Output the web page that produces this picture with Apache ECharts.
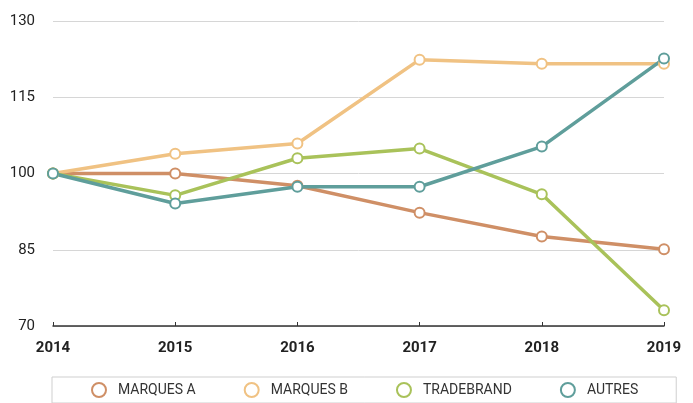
<!DOCTYPE html>
<html>
<head>
<meta charset="utf-8">
<script src="https://cdn.jsdelivr.net/npm/echarts@6/dist/echarts.min.js"></script>
<style>
  html, body { margin: 0; padding: 0; background: #fff; }
  #chart { width: 693px; height: 403px; }
</style>
</head>
<body>
<div id="chart"></div>
<script>
var years = ['2014', '2015', '2016', '2017', '2018', '2019'];
var marquesA = [100, 100, 97.6, 92.3, 87.6, 85.1];
var marquesB = [100, 103.9, 105.9, 122.4, 121.6, 121.6];
var tradebrand = [100, 95.7, 103, 104.9, 95.9, 73.1];
var autres = [100, 94.1, 97.4, 97.4, 105.3, 122.6];

var names = ['MARQUES A', 'MARQUES B', 'TRADEBRAND', 'AUTRES'];
var colors = ['#cf8f66', '#f0c283', '#a9c25a', '#5f9e9b'];
var font = '"Liberation Sans Narrow", "Roboto", sans-serif';

var chart = echarts.init(document.getElementById('chart'));

function makeSeries(name, data, color) {
  return {
    name: name,
    type: 'line',
    data: data,
    symbol: 'emptyCircle',
    symbolSize: 10,
    lineStyle: { width: 3.5, color: color },
    itemStyle: { color: color, borderWidth: 3, borderColor: color },
    emphasis: { disabled: true }
  };
}

var option = {
  animation: false,
  color: colors,
  grid: { left: 53, right: 29, top: 21, bottom: 77 },
  legend: {
    data: names,
    left: 52,
    top: 377,
    itemWidth: 16,
    itemHeight: 14,
    itemGap: 48,
    padding: [5, 38, 5, 39],
    borderColor: '#cfcfcf',
    borderWidth: 1,
    icon: 'emptyCircle',
    itemStyle: { borderWidth: 3.5 },
    textStyle: { fontFamily: font, fontSize: 14, color: '#333', padding: [0, 0, 0, 6] }
  },
  xAxis: {
    type: 'category',
    boundaryGap: false,
    data: years,
    axisLine: { lineStyle: { color: '#333', width: 1.5 } },
    axisTick: { show: true, inside: true, length: 4, lineStyle: { color: '#333' } },
    axisLabel: { fontFamily: font, fontSize: 15, fontWeight: 'bold', color: '#222', margin: 15 }
  },
  yAxis: {
    type: 'value',
    min: 70,
    max: 130,
    interval: 15,
    axisLine: { show: false },
    axisTick: { show: false },
    axisLabel: { fontFamily: font, fontSize: 15, color: '#222', margin: 18 },
    splitLine: { lineStyle: { color: '#d6d6d6', width: 1 } }
  },
  series: [
    makeSeries(names[0], marquesA, colors[0]),
    makeSeries(names[1], marquesB, colors[1]),
    makeSeries(names[2], tradebrand, colors[2]),
    makeSeries(names[3], autres, colors[3])
  ]
};

chart.setOption(option);
</script>
</body>
</html>
